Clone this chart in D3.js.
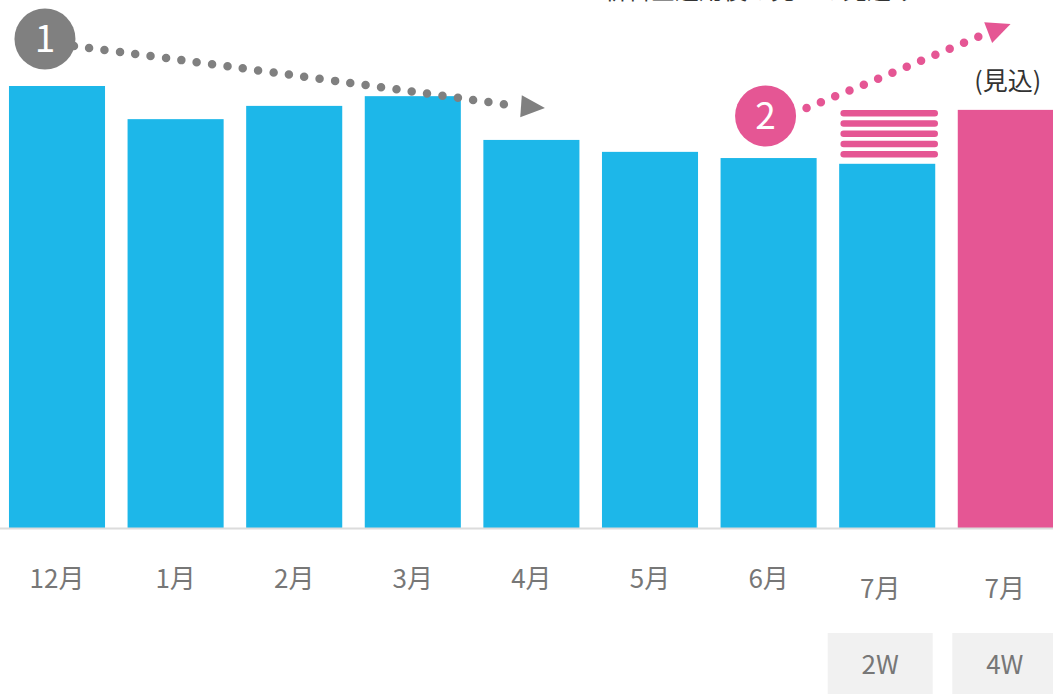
<!DOCTYPE html>
<html lang="ja">
<head>
<meta charset="utf-8">
<script src="https://cdn.jsdelivr.net/npm/d3@7"></script>
<style>
  html, body { margin: 0; padding: 0; background: #fff; }
  svg { display: block; font-family: "Noto Sans CJK JP", "Noto Sans", sans-serif; }
</style>
</head>
<body>
<svg id="chart" width="1053" height="694"></svg>
<script>
// Monthly figures (index, 12月 = 100)
const categories = ["12月", "1月", "2月", "3月", "4月", "5月", "6月", "7月 2W", "7月 4W"];
const values     = [100, 92.5, 95.5, 97.7, 87.8, 85.1, 83.7, 82.4, 94.6];
const monthLabels = ["12月", "1月", "2月", "3月", "4月", "5月", "6月", "7月", "7月"];
const weekLabels  = [null, null, null, null, null, null, null, "2W", "4W"];
const forecastLabel = "(見込)";
const headline = "新料金適用後の売上の見込み";

const W = 1053, H = 694;
const BLUE = "#1db7e9", PINK = "#e55694", GREY = "#808080", LABEL = "#777777";
const baseY = 528;

const svg = d3.select("#chart");

const x = d3.scaleBand()
  .domain(categories)
  .range([-2.3, 1065.1])
  .paddingInner(0.19)
  .paddingOuter(0.095);

const y = d3.scaleLinear().domain([0, 100]).range([baseY, 86]);

// bars
svg.append("g").selectAll("rect")
  .data(categories)
  .join("rect")
  .attr("x", d => x(d))
  .attr("y", (d, i) => y(values[i]))
  .attr("width", x.bandwidth())
  .attr("height", (d, i) => baseY - y(values[i]))
  .attr("fill", (d, i) => i === categories.length - 1 ? PINK : BLUE);

// baseline
svg.append("line")
  .attr("x1", 0).attr("x2", W)
  .attr("y1", baseY + 0.5).attr("y2", baseY + 0.5)
  .attr("stroke", "#dcdcdc").attr("stroke-width", 2);

// stripes showing the gap between the 2W figure and the full-month forecast
const partial = categories[7], full = categories[8];
const stripeTop = y(values[8]), stripeBottom = y(values[7]);
const nStripes = 5;
const firstStripe = stripeTop + 3.5, lastStripe = stripeBottom - 9.5;
const stripeGap = (lastStripe - firstStripe) / (nStripes - 1);
svg.append("g").selectAll("line")
  .data(d3.range(nStripes))
  .join("line")
  .attr("x1", x(partial) + 4.5)
  .attr("x2", x(partial) + x.bandwidth() - 0.5)
  .attr("y1", k => firstStripe + k * stripeGap)
  .attr("y2", k => firstStripe + k * stripeGap)
  .attr("stroke", PINK).attr("stroke-width", 6.5).attr("stroke-linecap", "round");

// category axis
const weekShift = { 7: -7, 8: -1 };
const labelX = (d, i) => x(d) + x.bandwidth() / 2 + (weekShift[i] || 0);
const labelAxis = svg.append("g").attr("class", "x-axis");
labelAxis.selectAll("text.month")
  .data(categories)
  .join("text")
  .attr("class", "month")
  .attr("x", labelX)
  .attr("y", (d, i) => i < 7 ? 588 : 598)
  .attr("text-anchor", "middle")
  .attr("font-size", 26)
  .attr("fill", LABEL)
  .text((d, i) => monthLabels[i]);

const weekIdx = categories.map((d, i) => i).filter(i => weekLabels[i]);
labelAxis.selectAll("rect.week")
  .data(weekIdx)
  .join("rect")
  .attr("class", "week")
  .attr("x", i => labelX(categories[i], i) - 52.5)
  .attr("y", 633)
  .attr("width", 105)
  .attr("height", 61)
  .attr("fill", "#f1f1f1");
labelAxis.selectAll("text.week")
  .data(weekIdx)
  .join("text")
  .attr("class", "week")
  .attr("x", i => labelX(categories[i], i))
  .attr("y", 674)
  .attr("text-anchor", "middle")
  .attr("font-size", 26)
  .attr("fill", LABEL)
  .text(i => weekLabels[i]);

// forecast label
svg.append("text")
  .attr("x", x(full) + x.bandwidth() / 2 + 2)
  .attr("y", 90)
  .attr("text-anchor", "middle")
  .attr("font-size", 25)
  .attr("fill", "#333")
  .text(forecastLabel);

// headline (runs off the top edge)
svg.append("text")
  .attr("x", 603)
  .attr("y", -1)
  .attr("font-size", 24)
  .attr("fill", "#333")
  .text(headline);

// dotted trend arrows with numbered markers
function arrowHead(g, tip, dir, color) {
  const len = Math.hypot(dir[0], dir[1]);
  const ux = dir[0] / len, uy = dir[1] / len;
  const L = 24, hw = 11;
  const bx = tip[0] - ux * L, by = tip[1] - uy * L;
  g.append("path")
    .attr("d", `M${tip[0]},${tip[1]}L${bx - uy * hw},${by + ux * hw}L${bx + uy * hw},${by - ux * hw}Z`)
    .attr("fill", color);
}

function trend(start, ctrl, end, tip, color, num, centre) {
  const g = svg.append("g");
  const p = d3.path();
  p.moveTo(start[0], start[1]);
  p.quadraticCurveTo(ctrl[0], ctrl[1], end[0], end[1]);
  g.append("path")
    .attr("d", p.toString())
    .attr("fill", "none")
    .attr("stroke", color)
    .attr("stroke-width", 8.5)
    .attr("stroke-linecap", "round")
    .attr("stroke-dasharray", "0 15.5");
  arrowHead(g, tip, [tip[0] - end[0], tip[1] - end[1]], color);
  g.append("circle")
    .attr("cx", centre[0]).attr("cy", centre[1]).attr("r", 30.5)
    .attr("fill", color);
  g.append("text")
    .attr("x", centre[0]).attr("y", centre[1] + 13)
    .attr("text-anchor", "middle")
    .attr("font-size", 37)
    .attr("font-weight", 400)
    .attr("fill", "#fff")
    .text(num);
}

const c0 = x(categories[0]);
trend([c0 + 65, 46], [c0 + 250, 70], [c0 + 508, 106], [c0 + 536, 108], GREY, "1", [c0 + 36, 39]);

const c6 = x(categories[6]);
trend([c6 + 86, 108], [c6 + 175, 72], [c6 + 264, 34], [c6 + 290, 24], PINK, "2", [c6 + 45, 116]);
</script>
</body>
</html>
